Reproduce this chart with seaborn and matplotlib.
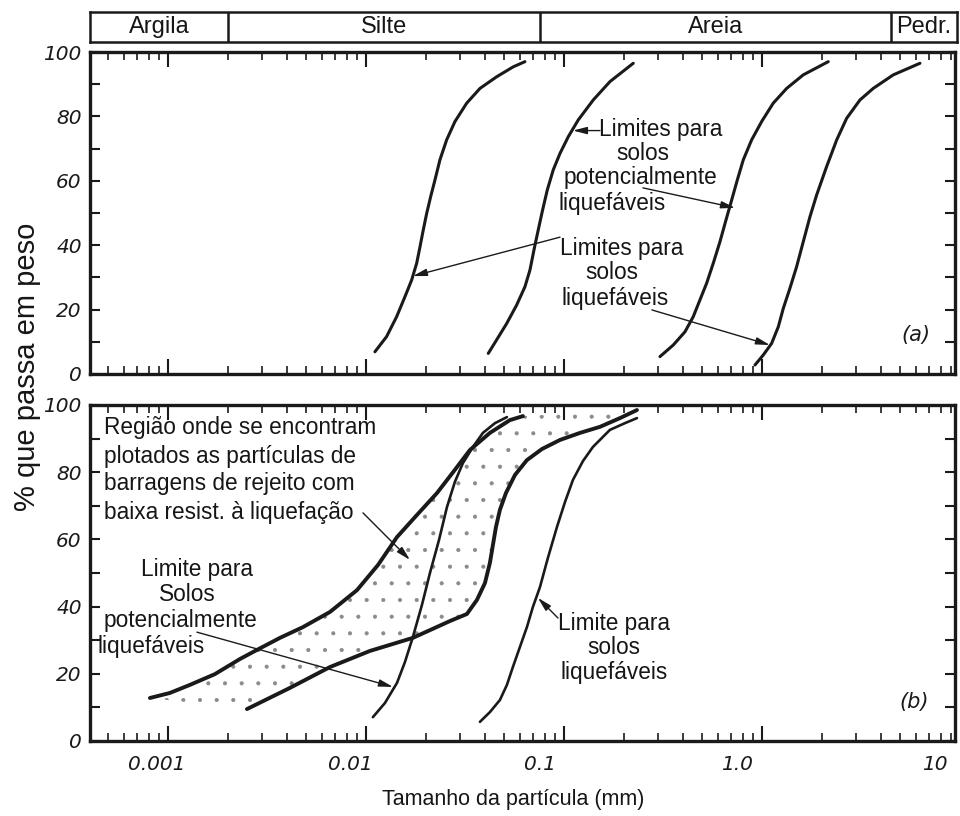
import numpy as np
import pandas as pd
import matplotlib
matplotlib.use("Agg")
import matplotlib.pyplot as plt
import matplotlib.transforms as mtransforms
from matplotlib.ticker import LogLocator, MultipleLocator, NullFormatter
import seaborn as sns

# ---------------- data ----------------
# soil classes along the particle size axis (mm)
zone_names = ["Argila", "Silte", "Areia", "Pedr."]
zone_edges = [0.000404, 0.002, 0.075, 4.4, 9.44]

# panel (a): grading limits (particle size in mm, % passing)
a1_x = [0.01110, 0.01271, 0.01429, 0.01574, 0.01702, 0.01804, 0.01875, 0.01947, 0.02027,
        0.02123, 0.02230, 0.02364, 0.02556, 0.02815, 0.03226, 0.03767, 0.04571, 0.05546, 0.06353]
a1_y = [6.9, 11.6, 17.8, 24.0, 29.2, 34.4, 39.5, 44.7, 49.9,
        55.1, 60.2, 66.5, 72.7, 78.4, 84.1, 88.7, 92.3, 95.4, 97.0]
a2_x = [0.04148, 0.04571, 0.05140, 0.05768, 0.06353, 0.06736, 0.07055, 0.07413, 0.07800,
        0.08234, 0.08831, 0.09550, 0.1052, 0.1181, 0.1406, 0.1707, 0.2239]
a2_y = [6.4, 10.6, 15.7, 21.4, 27.1, 32.3, 38.5, 44.7, 50.9,
        57.1, 63.4, 68.5, 73.7, 78.9, 85.1, 90.8, 96.5]
a3_x = [0.3054, 0.3565, 0.4085, 0.4498, 0.4862, 0.5257, 0.5677, 0.6138, 0.6580,
        0.7030, 0.7504, 0.8047, 0.8869, 0.9965, 1.140, 1.333, 1.617, 2.162]
a3_y = [5.4, 9.0, 13.1, 17.8, 23.0, 28.2, 34.4, 41.1, 47.8,
        54.0, 60.2, 66.5, 72.7, 78.4, 84.1, 88.7, 92.9, 97.0]
a4_x = [0.9222, 1.0155, 1.119, 1.210, 1.282, 1.384, 1.496, 1.617, 1.747,
        1.889, 2.121, 2.385, 2.677, 3.125, 3.648, 4.605, 6.28]
a4_y = [2.8, 5.9, 9.5, 14.7, 20.4, 26.6, 33.3, 41.1, 48.8,
        55.6, 64.4, 72.7, 79.4, 85.1, 88.7, 92.9, 96.5]

# panel (b): tailings region bounds (b1, b3) and limits (b2, b4)
b1_x = [0.000811, 0.001023, 0.001291, 0.001726, 0.002310, 0.002814, 0.003680, 0.004808,
        0.006579, 0.009011, 0.01151, 0.01435, 0.01811, 0.02285, 0.02812, 0.03350,
        0.04227, 0.05333, 0.06209]
b1_y = [12.8, 14.3, 16.7, 19.9, 24.4, 27.1, 30.7, 33.9,
        38.4, 44.9, 52.4, 60.7, 67.3, 73.8, 80.7, 86.6,
        91.7, 95.5, 96.7]
b2_x = [0.01084, 0.01247, 0.01435, 0.01574, 0.01727, 0.01918, 0.02105, 0.02338,
        0.02565, 0.02812, 0.03088, 0.03469, 0.03897, 0.04484, 0.05152]
b2_y = [7.1, 11.3, 17.3, 23.5, 31.0, 40.5, 50.0, 59.8,
        69.6, 77.1, 82.7, 87.5, 91.7, 94.6, 96.4]
b3_x = [0.002506, 0.004130, 0.006576, 0.01047, 0.01727, 0.02656, 0.03236, 0.03636,
        0.03990, 0.04227, 0.04377, 0.04536, 0.04749, 0.05093, 0.05660, 0.06501,
        0.07744, 0.09550, 0.1205, 0.1520, 0.1918, 0.2337]
b3_y = [9.5, 15.8, 22.0, 26.8, 30.7, 35.7, 37.8, 42.0,
        47.0, 53.0, 58.3, 63.7, 68.8, 73.8, 79.2, 83.6,
        86.9, 89.6, 91.7, 93.5, 96.1, 98.5]
b4_x = [0.03765, 0.04227, 0.04749, 0.05152, 0.05521, 0.05995, 0.06501, 0.06970, 0.07565,
        0.08298, 0.09220, 0.1012, 0.1110, 0.1247, 0.1400, 0.1707, 0.2033, 0.2337]
b4_y = [5.7, 8.6, 12.2, 16.7, 22.0, 28.0, 33.9, 39.9, 45.8,
        54.5, 63.7, 71.1, 77.7, 83.3, 87.5, 92.6, 94.6, 96.1]

x_tick_values = [0.001, 0.01, 0.1, 1.0, 10.0]
x_tick_labels = ["0.001", "0.01", "0.1", "1.0", "10"]
x_label_shift_px = [-11, -16, -24, -25, -25]
y_tick_values = [0, 20, 40, 60, 80, 100]
y_tick_labels = ["0", "20", "40", "60", "80", "100"]

XMIN, XMAX = 0.000404, 9.44

# ---------------- figure ----------------
sns.set_theme(style="white")
plt.rcParams["font.family"] = ["Liberation Sans", "DejaVu Sans"]
plt.rcParams["hatch.color"] = "#8a8a8a"
plt.rcParams["hatch.linewidth"] = 0.5

W, H = 960, 816
fig = plt.figure(figsize=(W / 100, H / 100), dpi=100)
fig.patch.set_facecolor("white")


def px_axes(l, t, r, b):
    return fig.add_axes([l / W, 1 - b / H, (r - l) / W, (b - t) / H])


ax_bar = px_axes(90, 12, 957, 42)
ax_a = px_axes(90, 52, 955, 374)
ax_b = px_axes(90, 405, 955, 741)

TXT = "#161616"
TICKFONT = dict(family="DejaVu Sans", style="italic", size=14.5, color="k")

# classification bar
ax_bar.set_xscale("log")
ax_bar.set_xlim(XMIN, XMAX)
ax_bar.set_ylim(0, 1)
ax_bar.set_xticks([])
ax_bar.set_yticks([])
ax_bar.minorticks_off()
for s in ax_bar.spines.values():
    s.set_linewidth(1.8)
    s.set_color("k")
for edge in zone_edges[1:-1]:
    ax_bar.axvline(edge, color="k", lw=1.8)
for name, lo, hi in zip(zone_names, zone_edges[:-1], zone_edges[1:]):
    ax_bar.text(np.sqrt(lo * hi), 0.5, name, ha="center", va="center",
                fontsize=17, color=TXT)

# shared styling of the two grading panels
for ax in (ax_a, ax_b):
    ax.set_xscale("log")
    ax.set_xlim(XMIN, XMAX)
    ax.set_ylim(0, 100)
    for s in ax.spines.values():
        s.set_linewidth(2.4)
        s.set_color("k")
    ax.xaxis.set_major_locator(LogLocator(base=10, numticks=12))
    ax.xaxis.set_minor_locator(LogLocator(base=10, subs=np.arange(2, 10), numticks=12))
    ax.xaxis.set_major_formatter(NullFormatter())
    ax.xaxis.set_minor_formatter(NullFormatter())
    ax.set_yticks(y_tick_values, labels=y_tick_labels)
    ax.yaxis.set_minor_locator(MultipleLocator(10))
    ax.tick_params(which="both", direction="in", top=True, bottom=True,
                   left=True, right=True, color="k")
    ax.tick_params(axis="x", which="major", length=11, width=1.5)
    ax.tick_params(axis="x", which="minor", length=6, width=1.2)
    ax.tick_params(axis="y", which="both", length=7, width=1.5, pad=6)
    for lab in ax.get_yticklabels():
        lab.set(**TICKFONT)
    ax.grid(False)

# x tick labels under panel (b)
base_trans = mtransforms.blended_transform_factory(ax_b.transData, ax_b.transAxes)
for v, s, dx in zip(x_tick_values, x_tick_labels, x_label_shift_px):
    shift = mtransforms.ScaledTranslation(dx / 100, 0, fig.dpi_scale_trans)
    ax_b.text(v, -0.07, s, transform=base_trans + shift, ha="center", va="center",
              clip_on=False, **TICKFONT)


def curve(ax, xs, ys, lw):
    df = pd.DataFrame({"d": xs, "p": ys})
    sns.lineplot(data=df, x="d", y="p", ax=ax, color="k", lw=lw,
                 sort=False, estimator=None, legend=False,
                 solid_capstyle="round", solid_joinstyle="round")


# panel (a)
for xs, ys in [(a1_x, a1_y), (a2_x, a2_y), (a3_x, a3_y), (a4_x, a4_y)]:
    curve(ax_a, xs, ys, 2.2)

# panel (b): stippled tailings region between the two bounds
poly_x = b1_x + b3_x[::-1]
poly_y = b1_y + b3_y[::-1]
ax_b.fill(poly_x, poly_y, facecolor="none", edgecolor="#8a8a8a", hatch=".", lw=0)
curve(ax_b, b1_x, b1_y, 2.8)
curve(ax_b, b3_x, b3_y, 2.8)
curve(ax_b, b2_x, b2_y, 1.9)
curve(ax_b, b4_x, b4_y, 1.9)

for ax in (ax_a, ax_b):
    ax.set_xlim(XMIN, XMAX)
    ax.set_ylim(0, 100)
    ax.set_xlabel("")
    ax.set_ylabel("")

FS = 16.3
ARROW = dict(arrowstyle="-|>,head_length=0.7,head_width=0.18", color="k", lw=1.0,
             shrinkA=0, shrinkB=0)


def lines(ax, items, ha="center"):
    for x, y, s in items:
        ax.text(x, y, s, ha=ha, va="center", fontsize=FS, color=TXT)


# annotations, panel (a)
lines(ax_a, [(0.309, 75.8, "Limites para"), (0.2506, 68.6, "solos"),
             (0.242, 60.9, "potencialmente"), (0.1746, 53.1, "liquefáveis")])
ax_a.annotate("", xy=(0.111, 75.6), xytext=(0.152, 75.6), arrowprops=ARROW)
ax_a.annotate("", xy=(0.731, 51.6), xytext=(0.2506, 57.8), arrowprops=ARROW)

lines(ax_a, [(0.1963, 39.1, "Limites para"), (0.1746, 31.4, "solos"),
             (0.181, 23.6, "liquefáveis")])
ax_a.annotate("", xy=(0.01727, 30.4), xytext=(0.0955, 42.5), arrowprops=ARROW)
ax_a.annotate("", xy=(1.097, 9.0), xytext=(0.278, 19.9), arrowprops=ARROW)
ax_a.text(6.0, 12.1, "(a)", ha="center", va="center",
          family="DejaVu Sans", style="italic", fontsize=15, color="k")

# annotations, panel (b)
lines(ax_b, [(0.000475, 93.2, "Região onde se encontram"),
             (0.000475, 84.8, "plotados as partículas de"),
             (0.000475, 76.5, "barragens de rejeito com"),
             (0.000475, 68.0, "baixa resist. à liquefação")], ha="left")
ax_b.annotate("", xy=(0.01668, 53.9), xytext=(0.00966, 67.9), arrowprops=ARROW)

lines(ax_b, [(0.0014, 50.9, "Limite para"), (0.001247, 43.5, "Solos"),
             (0.001163, 36.0, "potencialmente"), (0.00082, 28.0, "liquefáveis")])
ax_b.annotate("", xy=(0.01369, 16.1), xytext=(0.0014, 32.4), arrowprops=ARROW)

lines(ax_b, [(0.179, 35.1, "Limite para"), (0.179, 27.7, "solos"),
             (0.179, 20.5, "liquefáveis")])
ax_b.annotate("", xy=(0.0739, 42.6), xytext=(0.0933, 36.6), arrowprops=ARROW)
ax_b.text(5.86, 11.6, "(b)", ha="center", va="center",
          family="DejaVu Sans", style="italic", fontsize=15, color="k")

# axis titles
fig.text(27 / W, 1 - 367 / H, "% que passa em peso", rotation=90,
         ha="center", va="center", fontsize=21, color=TXT)
fig.text(513 / W, 1 - 800 / H, "Tamanho da partícula (mm)",
         ha="center", va="center", fontsize=15.5, color=TXT)

fig.savefig("out.png", dpi=100, facecolor="white")
